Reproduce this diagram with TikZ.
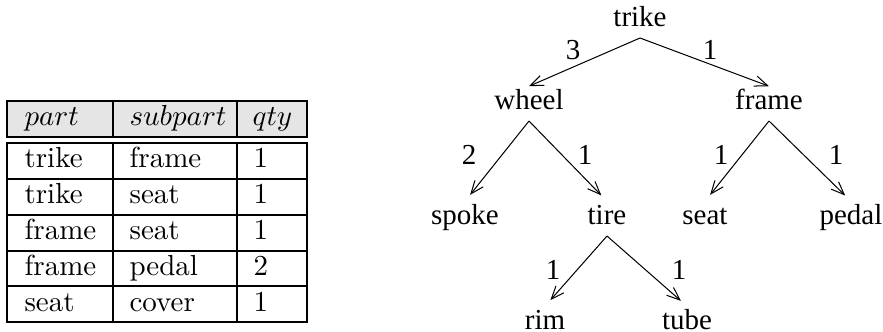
\documentclass[tikz,border=0pt]{standalone}
\usepackage{fontspec}
\newfontfamily\treefont{Liberation Serif}
\usetikzlibrary{arrows.meta}

\begin{document}
\begin{tikzpicture}[x=0.345pt, y=-0.345pt,
		cell/.style={anchor=base west, inner sep=0pt},
		part/.style={anchor=base, inner xsep=0pt, inner ysep=1pt, text height=7pt, text depth=2.6pt,
			font=\treefont\fontsize{10pt}{12pt}\selectfont},
		qty/.style={inner sep=0pt, font=\treefont\fontsize{10pt}{12pt}\selectfont},
		arr/.style={line width=0.35pt, -{Straight Barb[length=4.5pt,width=3.6pt]}},
		hrule/.style={line width=0.6pt},
		trule/.style={line width=0.9pt}]
	\useasboundingbox (0,0) rectangle (883,332);
	
	%% ── table: header ──
	\filldraw[hrule, fill=gray!20] (7,101) rectangle (307,137);
	\draw[hrule] (113,101) -- (113,137) (237,101) -- (237,137);
	\node[cell] (h1) at (24,126) {$part$};
	\node[cell] (h2) at (129,126) {$subpart$};
	\node[cell] (h3) at (252,126) {$qty$};
	
	%% ── table: rows ──
	\draw[trule] (7,143) rectangle (307,322);
	\foreach \y in {179,215,251,286}
	\draw[trule] (7,\y) -- (307,\y);
	\draw[trule] (113,143) -- (113,322) (237,143) -- (237,322);
	\foreach \a/\b/\n [count=\i] in {trike/frame/1, trike/seat/1, frame/seat/1, frame/pedal/2, seat/cover/1}{
		\node[cell] (a\i) at (24,132+36*\i) {\a};
		\node[cell] (b\i) at (129,132+36*\i) {\b};
		\node[cell] (n\i) at (253,132+36*\i) {\n};
	}
	
	%% ── tree: parts ──
	\node[part] (trike) at (640,27) {trike};
	\node[part] (wheel) at (529,110) {wheel};
	\node[part] (frame) at (769,110) {frame};
	\node[part] (spoke) at (465,225) {spoke};
	\node[part] (tire) at (607,225) {tire};
	\node[part] (seat) at (705,225) {seat};
	\node[part] (pedal) at (851,225) {pedal};
	\node[part] (rim) at (545,330) {rim};
	\node[part] (tube) at (687,330) {tube};
	
	%% ── tree: quantities ──
	\node[qty] (qwheel) at (573,50) {3};
	\node[qty] (qframe) at (710,50) {1};
	\node[qty] (qspoke) at (469,155) {2};
	\node[qty] (qtire) at (585,155) {1};
	\node[qty] (qseat) at (721,155) {1};
	\node[qty] (qpedal) at (836,155) {1};
	\node[qty] (qrim) at (553,270) {1};
	\node[qty] (qtube) at (679,270) {1};
	
	%% ── tree: connectors ──
	\foreach \p/\c in {trike/wheel, trike/frame}
	\draw[arr] (\p.south) -- (\c.north);
	\foreach \p/\c in {wheel/spoke, wheel/tire, frame/seat, frame/pedal, tire/rim, tire/tube}
	\draw[arr, shorten >=2.8pt] (\p.south) -- (\c.north);
	
\end{tikzpicture}
\end{document}
